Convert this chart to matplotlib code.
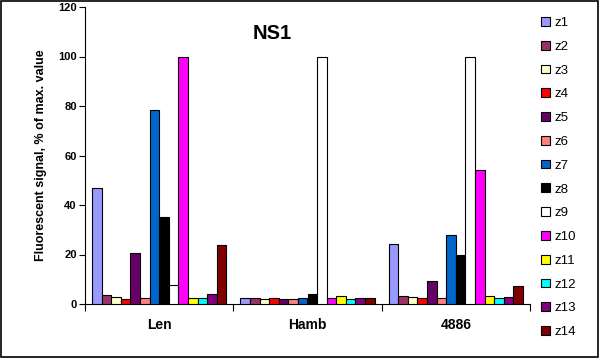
import matplotlib
matplotlib.use("Agg")
import matplotlib.pyplot as plt
from matplotlib.patches import Rectangle
import numpy as np

plt.rcParams['font.family'] = ['Liberation Sans', 'DejaVu Sans']

categories = ["Len", "Hamb", "4886"]
series_names = ["z1", "z2", "z3", "z4", "z5", "z6", "z7", "z8", "z9", "z10", "z11", "z12", "z13", "z14"]
colors = ["#9999FF", "#993366", "#FFFFCC", "#FF0000", "#660066", "#FF8080", "#0066CC",
          "#000000", "#FFFFFF", "#FF00FF", "#FFFF00", "#00FFFF", "#800080", "#800000"]
values_len = [47, 3.5, 2.7, 1.9, 20.8, 2.3, 78.5, 35, 7.5, 100, 2.3, 2.3, 3.9, 24]
values_hamb = [2.3, 2.3, 1.9, 2.3, 1.9, 1.9, 2.3, 3.9, 100, 2.3, 3.2, 1.9, 2.3, 2.3]
values_4886 = [24.4, 3.2, 2.7, 2.3, 9.4, 2.3, 27.9, 19.6, 100, 54, 3.2, 2.3, 2.7, 7.1]
yticks = [0, 20, 40, 60, 80, 100, 120]

data = np.array([values_len, values_hamb, values_4886])

fig = plt.figure(figsize=(6.0, 3.58), dpi=100)
ax = fig.add_axes([85/600, 54/358, 445/600, 297/358])

n = len(series_names)
group_w = 0.905
bw = group_w / n
x = np.arange(len(categories))
for i in range(n):
    ax.bar(x - group_w/2 + bw*(i+0.5), data[:, i], width=bw, color=colors[i],
           edgecolor="black", linewidth=0.8, label=series_names[i], zorder=3)

ax.set_xlim(-0.5, len(categories) - 0.5)
ax.set_ylim(0, 120)
ax.set_yticks(yticks)
ax.set_yticklabels([str(t) for t in yticks], fontsize=8, fontweight="bold")
ax.set_xticks([-0.5, 0.5, 1.5, 2.5])
ax.set_xticklabels([])
ax.set_xticks(x, minor=True)
ax.set_xticklabels(categories, minor=True, fontsize=10, fontweight="bold")
ax.tick_params(axis="x", which="minor", length=0, pad=10)
ax.tick_params(axis="x", which="major", length=5, direction="out", width=0.8)
ax.tick_params(axis="y", length=4, direction="out", width=0.8, pad=2)
for s in ["top", "right"]:
    ax.spines[s].set_visible(False)
ax.spines["left"].set_linewidth(0.8)
ax.spines["bottom"].set_linewidth(0.8)
ax.set_ylabel("Fluorescent signal, % of max. value", fontsize=9, fontweight="bold", labelpad=8)
ax.text(0.42, 0.91, "NS1", transform=ax.transAxes, fontsize=14.5, fontweight="bold",
        ha="center", va="center")

leg = ax.legend(loc="upper left", bbox_to_anchor=(541/600, 341/358), bbox_transform=fig.transFigure,
                frameon=False, fontsize=9.5, handlelength=0.65, handleheight=0.65,
                handletextpad=0.4, labelspacing=0.89, borderpad=0, borderaxespad=0)

fig.patches.append(Rectangle((0.001, 0.002), 0.996, 0.996, transform=fig.transFigure,
                             fill=False, edgecolor="black", linewidth=1.2))
fig.savefig("out.png", dpi=100)
